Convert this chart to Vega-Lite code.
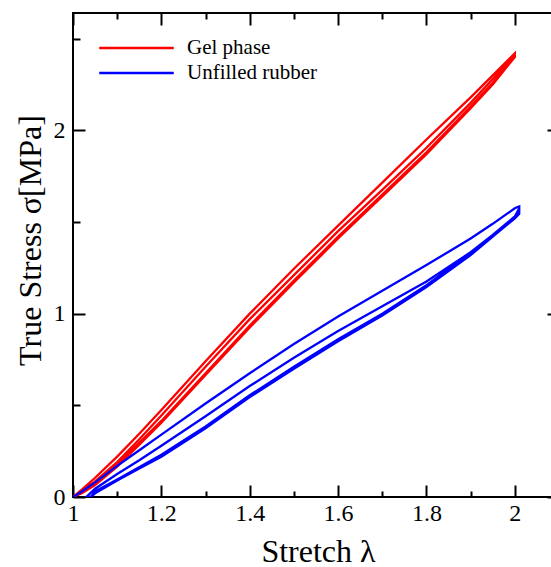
{
  "$schema": "https://vega.github.io/schema/vega-lite/v6.json",
  "width": 486,
  "height": 484,
  "autosize": {"type": "none"},
  "padding": {"left": 73, "top": 13, "right": 0, "bottom": 70},
  "background": "white",
  "view": {"stroke": "black", "strokeWidth": 2},
  "config": {
    "font": "Liberation Serif",
    "axis": {
      "domain": false,
      "grid": false,
      "tickColor": "black",
      "tickWidth": 2,
      "labelFont": "Liberation Serif",
      "labelFontSize": 24,
      "labelColor": "black",
      "labelFlush": false,
      "labelOverlap": false,
      "titleFont": "Liberation Serif",
      "titleFontSize": 32,
      "titleFontWeight": "normal",
      "titleColor": "black"
    }
  },
  "data": {
    "values": [
      {"m": "Gel phase", "i": 1, "x": 1.0, "y": 0},
      {"m": "Gel phase", "i": 2, "x": 1.02, "y": 0.04},
      {"m": "Gel phase", "i": 3, "x": 1.05, "y": 0.105},
      {"m": "Gel phase", "i": 4, "x": 1.1, "y": 0.22},
      {"m": "Gel phase", "i": 5, "x": 1.15, "y": 0.345},
      {"m": "Gel phase", "i": 6, "x": 1.2, "y": 0.475},
      {"m": "Gel phase", "i": 7, "x": 1.3, "y": 0.74},
      {"m": "Gel phase", "i": 8, "x": 1.4, "y": 1.00},
      {"m": "Gel phase", "i": 9, "x": 1.5, "y": 1.245},
      {"m": "Gel phase", "i": 10, "x": 1.6, "y": 1.48},
      {"m": "Gel phase", "i": 11, "x": 1.7, "y": 1.715},
      {"m": "Gel phase", "i": 12, "x": 1.8, "y": 1.95},
      {"m": "Gel phase", "i": 13, "x": 1.9, "y": 2.18},
      {"m": "Gel phase", "i": 14, "x": 1.95, "y": 2.30},
      {"m": "Gel phase", "i": 15, "x": 2.0, "y": 2.42},
      {"m": "Gel phase", "i": 16, "x": 2.0, "y": 2.40},
      {"m": "Gel phase", "i": 17, "x": 1.95, "y": 2.25},
      {"m": "Gel phase", "i": 18, "x": 1.9, "y": 2.12},
      {"m": "Gel phase", "i": 19, "x": 1.8, "y": 1.87},
      {"m": "Gel phase", "i": 20, "x": 1.7, "y": 1.64},
      {"m": "Gel phase", "i": 21, "x": 1.6, "y": 1.41},
      {"m": "Gel phase", "i": 22, "x": 1.5, "y": 1.17},
      {"m": "Gel phase", "i": 23, "x": 1.4, "y": 0.925},
      {"m": "Gel phase", "i": 24, "x": 1.3, "y": 0.665},
      {"m": "Gel phase", "i": 25, "x": 1.2, "y": 0.405},
      {"m": "Gel phase", "i": 26, "x": 1.15, "y": 0.285},
      {"m": "Gel phase", "i": 27, "x": 1.1, "y": 0.165},
      {"m": "Gel phase", "i": 28, "x": 1.05, "y": 0.065},
      {"m": "Gel phase", "i": 29, "x": 1.02, "y": 0.02},
      {"m": "Gel phase", "i": 30, "x": 1.0, "y": 0},
      {"m": "Gel phase", "i": 31, "x": 1.02, "y": 0.03},
      {"m": "Gel phase", "i": 32, "x": 1.05, "y": 0.085},
      {"m": "Gel phase", "i": 33, "x": 1.1, "y": 0.19},
      {"m": "Gel phase", "i": 34, "x": 1.15, "y": 0.315},
      {"m": "Gel phase", "i": 35, "x": 1.2, "y": 0.445},
      {"m": "Gel phase", "i": 36, "x": 1.3, "y": 0.71},
      {"m": "Gel phase", "i": 37, "x": 1.4, "y": 0.97},
      {"m": "Gel phase", "i": 38, "x": 1.5, "y": 1.21},
      {"m": "Gel phase", "i": 39, "x": 1.6, "y": 1.45},
      {"m": "Gel phase", "i": 40, "x": 1.7, "y": 1.675},
      {"m": "Gel phase", "i": 41, "x": 1.8, "y": 1.905},
      {"m": "Gel phase", "i": 42, "x": 1.9, "y": 2.15},
      {"m": "Gel phase", "i": 43, "x": 1.95, "y": 2.28},
      {"m": "Gel phase", "i": 44, "x": 2.0, "y": 2.41},
      {"m": "Gel phase", "i": 45, "x": 2.0, "y": 2.40},
      {"m": "Gel phase", "i": 46, "x": 1.95, "y": 2.26},
      {"m": "Gel phase", "i": 47, "x": 1.9, "y": 2.13},
      {"m": "Gel phase", "i": 48, "x": 1.8, "y": 1.88},
      {"m": "Gel phase", "i": 49, "x": 1.7, "y": 1.65},
      {"m": "Gel phase", "i": 50, "x": 1.6, "y": 1.42},
      {"m": "Gel phase", "i": 51, "x": 1.5, "y": 1.18},
      {"m": "Gel phase", "i": 52, "x": 1.4, "y": 0.935},
      {"m": "Gel phase", "i": 53, "x": 1.3, "y": 0.675},
      {"m": "Gel phase", "i": 54, "x": 1.2, "y": 0.415},
      {"m": "Gel phase", "i": 55, "x": 1.1, "y": 0.175},
      {"m": "Gel phase", "i": 56, "x": 1.05, "y": 0.075},
      {"m": "Gel phase", "i": 57, "x": 1.0, "y": 0},

      {"m": "Unfilled rubber", "i": 1, "x": 1.0, "y": 0},
      {"m": "Unfilled rubber", "i": 2, "x": 1.02, "y": 0.03},
      {"m": "Unfilled rubber", "i": 3, "x": 1.05, "y": 0.08},
      {"m": "Unfilled rubber", "i": 4, "x": 1.1, "y": 0.17},
      {"m": "Unfilled rubber", "i": 5, "x": 1.15, "y": 0.255},
      {"m": "Unfilled rubber", "i": 6, "x": 1.2, "y": 0.34},
      {"m": "Unfilled rubber", "i": 7, "x": 1.3, "y": 0.51},
      {"m": "Unfilled rubber", "i": 8, "x": 1.4, "y": 0.675},
      {"m": "Unfilled rubber", "i": 9, "x": 1.5, "y": 0.835},
      {"m": "Unfilled rubber", "i": 10, "x": 1.6, "y": 0.985},
      {"m": "Unfilled rubber", "i": 11, "x": 1.7, "y": 1.125},
      {"m": "Unfilled rubber", "i": 12, "x": 1.8, "y": 1.265},
      {"m": "Unfilled rubber", "i": 13, "x": 1.9, "y": 1.41},
      {"m": "Unfilled rubber", "i": 14, "x": 1.95, "y": 1.49},
      {"m": "Unfilled rubber", "i": 15, "x": 2.0, "y": 1.575},
      {"m": "Unfilled rubber", "i": 16, "x": 2.01, "y": 1.585},
      {"m": "Unfilled rubber", "i": 17, "x": 2.01, "y": 1.545},
      {"m": "Unfilled rubber", "i": 18, "x": 2.0, "y": 1.52},
      {"m": "Unfilled rubber", "i": 19, "x": 1.95, "y": 1.42},
      {"m": "Unfilled rubber", "i": 20, "x": 1.9, "y": 1.32},
      {"m": "Unfilled rubber", "i": 21, "x": 1.8, "y": 1.145},
      {"m": "Unfilled rubber", "i": 22, "x": 1.7, "y": 0.99},
      {"m": "Unfilled rubber", "i": 23, "x": 1.6, "y": 0.85},
      {"m": "Unfilled rubber", "i": 24, "x": 1.5, "y": 0.70},
      {"m": "Unfilled rubber", "i": 25, "x": 1.4, "y": 0.545},
      {"m": "Unfilled rubber", "i": 26, "x": 1.3, "y": 0.375},
      {"m": "Unfilled rubber", "i": 27, "x": 1.2, "y": 0.22},
      {"m": "Unfilled rubber", "i": 28, "x": 1.15, "y": 0.155},
      {"m": "Unfilled rubber", "i": 29, "x": 1.1, "y": 0.09},
      {"m": "Unfilled rubber", "i": 30, "x": 1.05, "y": 0.02},
      {"m": "Unfilled rubber", "i": 31, "x": 1.04, "y": 0},
      {"m": "Unfilled rubber", "i": 32, "x": 1.03, "y": 0},
      {"m": "Unfilled rubber", "i": 33, "x": 1.05, "y": 0.045},
      {"m": "Unfilled rubber", "i": 34, "x": 1.1, "y": 0.125},
      {"m": "Unfilled rubber", "i": 35, "x": 1.15, "y": 0.2},
      {"m": "Unfilled rubber", "i": 36, "x": 1.2, "y": 0.28},
      {"m": "Unfilled rubber", "i": 37, "x": 1.3, "y": 0.44},
      {"m": "Unfilled rubber", "i": 38, "x": 1.4, "y": 0.605},
      {"m": "Unfilled rubber", "i": 39, "x": 1.5, "y": 0.76},
      {"m": "Unfilled rubber", "i": 40, "x": 1.6, "y": 0.905},
      {"m": "Unfilled rubber", "i": 41, "x": 1.7, "y": 1.04},
      {"m": "Unfilled rubber", "i": 42, "x": 1.8, "y": 1.175},
      {"m": "Unfilled rubber", "i": 43, "x": 1.9, "y": 1.335},
      {"m": "Unfilled rubber", "i": 44, "x": 1.95, "y": 1.43},
      {"m": "Unfilled rubber", "i": 45, "x": 2.0, "y": 1.53},
      {"m": "Unfilled rubber", "i": 46, "x": 2.01, "y": 1.575},
      {"m": "Unfilled rubber", "i": 47, "x": 2.01, "y": 1.56},
      {"m": "Unfilled rubber", "i": 48, "x": 2.0, "y": 1.53},
      {"m": "Unfilled rubber", "i": 49, "x": 1.95, "y": 1.425},
      {"m": "Unfilled rubber", "i": 50, "x": 1.9, "y": 1.33},
      {"m": "Unfilled rubber", "i": 51, "x": 1.8, "y": 1.155},
      {"m": "Unfilled rubber", "i": 52, "x": 1.7, "y": 1.0},
      {"m": "Unfilled rubber", "i": 53, "x": 1.6, "y": 0.86},
      {"m": "Unfilled rubber", "i": 54, "x": 1.5, "y": 0.71},
      {"m": "Unfilled rubber", "i": 55, "x": 1.4, "y": 0.555},
      {"m": "Unfilled rubber", "i": 56, "x": 1.3, "y": 0.385},
      {"m": "Unfilled rubber", "i": 57, "x": 1.2, "y": 0.23},
      {"m": "Unfilled rubber", "i": 58, "x": 1.1, "y": 0.095},
      {"m": "Unfilled rubber", "i": 59, "x": 1.05, "y": 0.03},
      {"m": "Unfilled rubber", "i": 60, "x": 1.04, "y": 0}
    ]
  },
  "layer": [
    {
      "mark": {"type": "line", "strokeWidth": 2.3, "clip": true},
      "encoding": {
        "x": {
          "field": "x", "type": "quantitative",
          "scale": {"domain": [1, 2.1], "nice": false, "zero": false},
          "axis": {
            "orient": "bottom",
            "title": "Stretch λ",
            "values": [1, 1.1, 1.2, 1.3, 1.4, 1.5, 1.6, 1.7, 1.8, 1.9, 2],
            "labelExpr": "abs(datum.value*5-round(datum.value*5))<0.01 ? format(datum.value,'~g') : ''",
            "tickSize": {"condition": {"test": "abs(datum.value*5-round(datum.value*5))<0.01", "value": -12}, "value": -6},
            "labelPadding": 16,
            "titleX": 245,
            "titleY": 64,
            "titleAlign": "center",
            "titleBaseline": "alphabetic"
          }
        },
        "y": {
          "field": "y", "type": "quantitative",
          "scale": {"domain": [0, 2.64], "nice": false, "zero": false},
          "axis": {
            "orient": "left",
            "title": "True Stress σ[MPa]",
            "values": [0, 0.5, 1, 1.5, 2, 2.5],
            "labelExpr": "abs(datum.value-round(datum.value))<0.01 ? format(datum.value,'~g') : ''",
            "tickSize": {"condition": {"test": "abs(datum.value-round(datum.value))<0.01", "value": -12}, "value": -7},
            "labelPadding": 20,
            "titleX": -33,
            "titleY": 227,
            "titleAngle": -90,
            "titleAlign": "center",
            "titleBaseline": "alphabetic"
          }
        },
        "color": {
          "field": "m", "type": "nominal",
          "scale": {"domain": ["Gel phase", "Unfilled rubber"], "range": ["#ff0000", "#0000ff"]},
          "legend": {
            "orient": "none",
            "legendX": 53,
            "legendY": 24.5,
            "title": null,
            "padding": 0,
            "symbolType": "M-5,0H5",
            "symbolSize": 222,
            "symbolStrokeWidth": 2.5,
            "labelFont": "Liberation Serif",
            "labelFontSize": 21,
            "labelColor": "black",
            "labelOffset": 40,
            "rowPadding": 3
          }
        },
        "order": {"field": "i", "type": "quantitative"}
      }
    },
    {
      "mark": {"type": "point", "opacity": 0},
      "encoding": {
        "x": {
          "field": "x", "type": "quantitative",
          "axis": {
            "orient": "top",
            "title": null,
            "labels": false,
            "values": [1, 1.1, 1.2, 1.3, 1.4, 1.5, 1.6, 1.7, 1.8, 1.9, 2],
            "tickSize": {"condition": {"test": "abs(datum.value*5-round(datum.value*5))<0.01", "value": -12}, "value": -6}
          }
        },
        "y": {
          "field": "y", "type": "quantitative",
          "axis": {
            "orient": "right",
            "title": null,
            "labels": false,
            "values": [0, 0.5, 1, 1.5, 2, 2.5],
            "tickSize": {"condition": {"test": "abs(datum.value-round(datum.value))<0.01", "value": -12}, "value": -7}
          }
        }
      }
    }
  ],
  "resolve": {"axis": {"x": "independent", "y": "independent"}}
}
